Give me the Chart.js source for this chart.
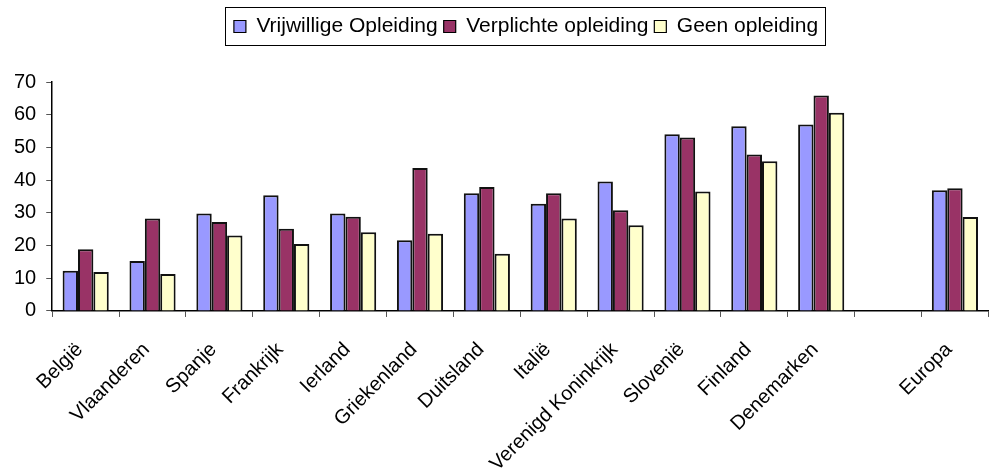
<!DOCTYPE html>
<html>
<head>
<meta charset="utf-8">
<script src="https://cdn.jsdelivr.net/npm/chart.js@4"></script>
<style>
  html, body { margin: 0; padding: 0; background: #fff; overflow: hidden; }
  #wrap { width: 993px; height: 497px; }
</style>
</head>
<body>
<div id="wrap"><canvas id="opleidingChart" width="993" height="497"></canvas></div>
<script>
const categories = ['België', 'Vlaanderen', 'Spanje', 'Frankrijk', 'Ierland', 'Griekenland', 'Duitsland',
    'Italië', 'Verenigd Koninkrijk', 'Slovenië', 'Finland', 'Denemarken', '', 'Europa'];
const vrijwillig = [12.3, 15.3, 29.8, 35.4, 29.8, 21.6, 36.0, 32.8, 39.6, 54.0, 56.5, 57.0, null, 36.9];
const verplicht = [18.9, 28.3, 27.2, 25.1, 28.8, 43.7, 37.9, 36.0, 30.8, 53.0, 47.8, 65.9, null, 37.5];
const geen = [11.9, 11.3, 23.1, 20.5, 24.1, 23.6, 17.5, 28.3, 26.2, 36.5, 45.8, 60.6, null, 28.7];
const yTicks = [0, 10, 20, 30, 40, 50, 60, 70];

const FONT = '"Liberation Sans", Arial, sans-serif';
const LEGEND_SHIFT = 29;   // legend sits a bit right of centre
const LEGEND_DROP = 4;
const LEGEND_GAP = 39;     // extra room under the legend

// nudges the legend and draws the box round it
const legendFrame = {
    id: 'legendFrame',
    afterInit(chart) {
        const legend = chart.legend;
        const fit = legend.fit.bind(legend);
        legend.fit = function () { fit(); this.height += LEGEND_GAP; };
        const draw = legend.draw.bind(legend);
        legend.draw = function () {
            chart.ctx.save();
            chart.ctx.translate(LEGEND_SHIFT, LEGEND_DROP);
            draw();
            chart.ctx.restore();
        };
    },
    afterDraw(chart) {
        const boxes = chart.legend.legendHitBoxes;
        if (!boxes || !boxes.length) return;
        const left = Math.min(...boxes.map(b => b.left)) + LEGEND_SHIFT - 9;
        const right = Math.max(...boxes.map(b => b.left + b.width)) + LEGEND_SHIFT + 7;
        const top = boxes[0].top + LEGEND_DROP - 9;
        const bottom = boxes[0].top + LEGEND_DROP + boxes[0].height + 8;
        const ctx = chart.ctx;
        ctx.save();
        ctx.strokeStyle = '#000';
        ctx.lineWidth = 1;
        ctx.strokeRect(Math.round(left) + 0.5, Math.round(top) + 0.5, Math.round(right - left), Math.round(bottom - top));
        ctx.restore();
    }
};

const ctx = document.getElementById('opleidingChart').getContext('2d');
new Chart(ctx, {
    type: 'bar',
    data: {
        labels: categories,
        datasets: [
            { label: 'Vrijwillige Opleiding', data: vrijwillig, backgroundColor: '#9999FF' },
            { label: 'Verplichte opleiding', data: verplicht, backgroundColor: '#993366' },
            { label: 'Geen opleiding', data: geen, backgroundColor: '#FFFFCC' }
        ].map(d => Object.assign(d, { borderColor: '#111', borderWidth: 2, categoryPercentage: 0.69, barPercentage: 1.0 }))
    },
    options: {
        responsive: false,
        animation: false,
        layout: { padding: { top: 6, right: 3, left: 4, bottom: 0 } },
        plugins: {
            tooltip: { enabled: false },
            legend: {
                position: 'top',
                labels: {
                    color: '#000',
                    font: { family: FONT, size: 21 },
                    boxWidth: 12,
                    boxHeight: 12,
                    padding: 6,
                    generateLabels(chart) {
                        return chart.data.datasets.map((d, i) => ({
                            text: d.label,
                            fillStyle: d.backgroundColor,
                            strokeStyle: '#000',
                            lineWidth: 1.2,
                            datasetIndex: i
                        }));
                    }
                }
            }
        },
        scales: {
            x: {
                grid: { display: true, drawOnChartArea: false, offset: true, color: '#555', tickLength: 6 },
                border: { color: '#000', width: 1.5 },
                ticks: {
                    color: '#000',
                    font: { family: FONT, size: 20 },
                    minRotation: 45,
                    maxRotation: 45,
                    autoSkip: false,
                    padding: 21,
                    labelOffset: -6
                }
            },
            y: {
                min: 0,
                max: 70,
                afterBuildTicks(axis) { axis.ticks = yTicks.map(v => ({ value: v })); },
                grid: { display: true, drawOnChartArea: false, color: '#555', tickLength: 6 },
                border: { color: '#000', width: 1.5 },
                ticks: {
                    color: '#000',
                    font: { family: FONT, size: 20 },
                    padding: 10
                }
            }
        }
    },
    plugins: [legendFrame]
});
</script>
</body>
</html>
